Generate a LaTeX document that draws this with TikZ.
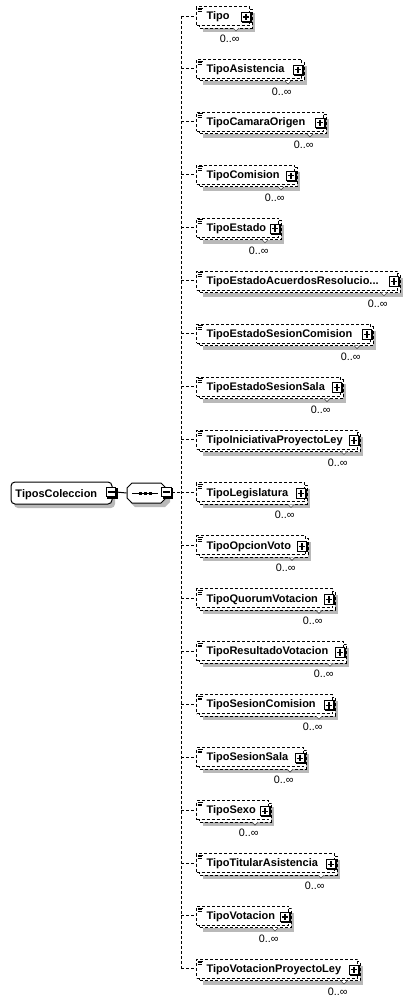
\documentclass[tikz,border=0pt]{standalone}
\usepackage{fontspec}
\setmainfont{Liberation Sans}
\definecolor{shd}{RGB}{185,185,185}
\newcommand\longtiponame{TipoEstadoAcuerdosResolucio...}
\begin{document}
\begin{tikzpicture}[x=1pt,y=-1pt,line width=1pt,
  dsh/.style={dash pattern=on 3pt off 2pt},
  frontbox/.style={draw,dsh,fill=white,inner sep=0pt,minimum height=19pt,anchor=west},
  nametext/.style={font=\fontsize{11}{13}\selectfont\bfseries,inner sep=0pt,anchor=base west},
  occtext/.style={font=\fontsize{10.8}{12}\selectfont,inner sep=0pt,anchor=base east},
  pmnode/.style={draw,fill=white,minimum size=9.5pt,inner sep=0pt}]
\useasboundingbox (0,0) rectangle (415,1005);

% ---------- root element ----------
\fill[shd,rounded corners=4pt] (14,486) rectangle (115,508);
\node[draw,fill=white,rounded corners=4pt,minimum width=101pt,minimum height=22pt,inner sep=0pt] (root) at (61.5,493) {};
\node[nametext] (roottxt) at (15,497) {TiposColeccion};
\fill[black] (107,488) rectangle (117.5,498.5);
\node[pmnode] (rm) at (111,492) {};
\draw[line width=1.1pt] (107.5,492) -- (114.5,492);

% ---------- sequence compositor ----------
\fill[shd] (135,487) -- (165,487) -- (170,492) -- (170,502) -- (165,507) -- (135,507) -- (130,502) -- (130,492) -- cycle;
\node[inner sep=0pt,minimum width=39pt,minimum height=20pt] (seq) at (146.5,493) {};
\draw[fill=white] (132,483) -- (161,483) -- (166,488) -- (166,498) -- (161,503) -- (132,503) -- (127,498) -- (127,488) -- cycle;
\draw[line width=0.8pt] (132,493) -- (158,493);
\foreach \dx in {139,144,149} \fill[black] (\dx,491.5) rectangle (\dx+3,494.5);
\fill[black] (162.5,488) rectangle (173,498.5);
\node[pmnode] (sm) at (166.5,492) {};
\draw[line width=1.1pt] (163,492) -- (170,492);
\draw (rm.east) -- (seq.west);

% ---------- trunk ----------
\coordinate (jseq) at (181,492);
\coordinate (ttop) at (181,16);
\coordinate (tbot) at (181,968.9);
\draw[dsh] (sm.east) -- (jseq);
\draw[dsh] (ttop) -- (tbot);

% ---------- children ----------
\foreach \i/\name/\R in {0/Tipo/252,1/TipoAsistencia/304,2/TipoCamaraOrigen/326,3/TipoComision/297,4/TipoEstado/281,5/\longtiponame/400,6/TipoEstadoSesionComision/373,7/TipoEstadoSesionSala/343,8/TipoIniciativaProyectoLey/360,9/TipoLegislatura/307,10/TipoOpcionVoto/308,11/TipoQuorumVotacion/335,12/TipoResultadoVotacion/346,13/TipoSesionComision/335,14/TipoSesionSala/306,15/TipoSexo/271,16/TipoTitularAsistencia/337,17/TipoVotacion/291,18/TipoVotacionProyectoLey/360}{
  \pgfmathsetmacro\c{16+52.94*\i}
  \pgfmathsetmacro\w{\R-199}
  % shadow
  \fill[shd] (203,\c-3) rectangle (\R+3,\c+16);
  % back box
  \draw[dsh,fill=white] (199,\c-7) rectangle (\R,\c+12);
  % front box
  \node[frontbox,minimum width=\w pt] (c\i) at (196,\c) {};
  % list icon
  \draw[line width=0.8pt] (197.5,\c-8) -- (202.5,\c-8) (197.5,\c-6.2) -- (202,\c-6.2) (197.5,\c-4.4) -- (202,\c-4.4);
  % name
  \node[nametext] (t\i) at (206,\c+3.7) {\name};
  % plus box
  \fill[black] (\R-9.75,\c-3.75) rectangle (\R,\c+6.75);
  \node[pmnode] (p\i) at (\R-6,\c+1) {};
  \draw[line width=1.1pt] (\R-9.3,\c+1) -- (\R-2.7,\c+1) (\R-6,\c-2.3) -- (\R-6,\c+4.3);
  % small marker
  \draw[line width=0.6pt,black!70,fill=white] (\R-19,\c+12) -- (\R-16,\c+15) -- (\R-13,\c+12);
  % occurrence
  \node[occtext] (o\i) at (\R-12,\c+26.5) {0..∞};
  % branch
  \coordinate (j\i) at (181,\c);
  \draw[dsh] (j\i) -- (c\i.west);
}
\end{tikzpicture}
\end{document}
